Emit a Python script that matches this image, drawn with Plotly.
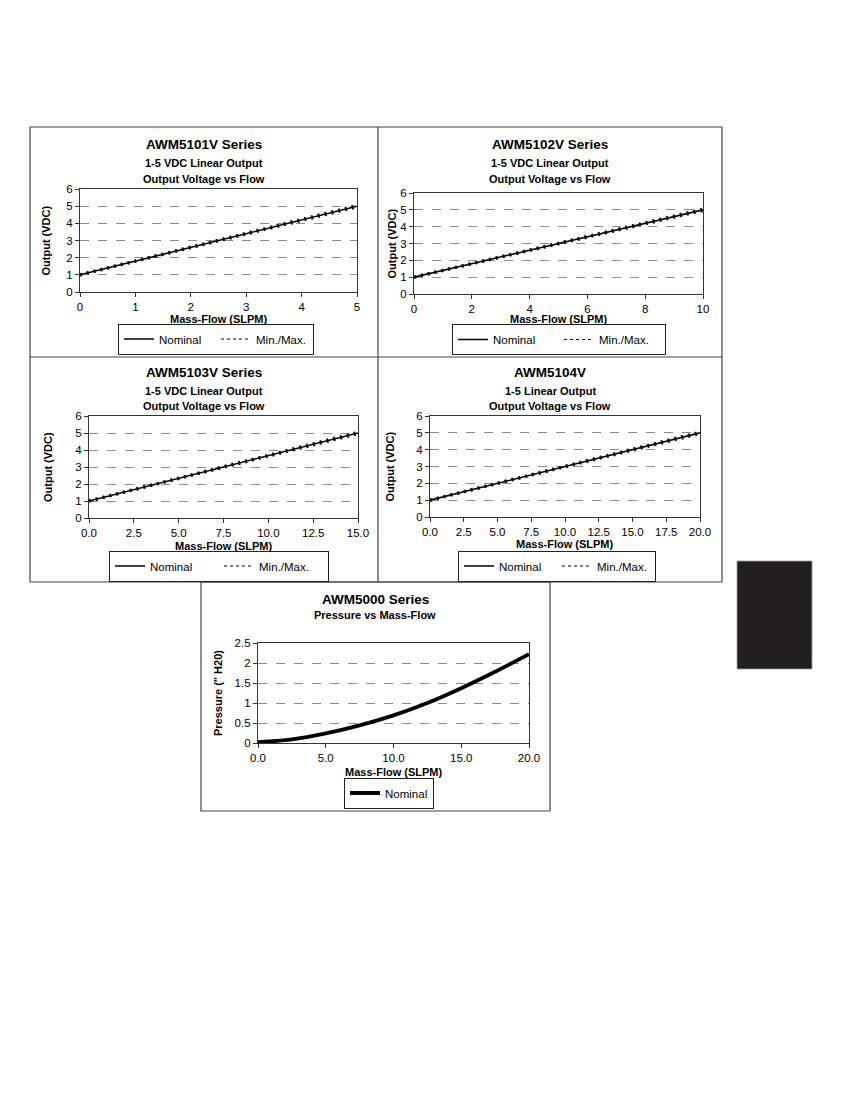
import plotly.graph_objects as go

W, H = 850, 1100

# ---------------- data ----------------
titles = ["AWM5101V Series", "AWM5102V Series", "AWM5103V Series", "AWM5104V", "AWM5000 Series"]
subtitles = [
    ["1-5 VDC Linear Output", "Output Voltage vs Flow"],
    ["1-5 VDC Linear Output", "Output Voltage vs Flow"],
    ["1-5 VDC Linear Output", "Output Voltage vs Flow"],
    ["1-5 Linear Output", "Output Voltage vs Flow"],
    ["Pressure vs Mass-Flow"],
]
flow_5101 = [0, 5]
flow_5102 = [0, 10]
flow_5103 = [0, 15]
flow_5104 = [0, 20]
out_nominal = [1.0, 5.0]
out_min = [1.0, 4.96]
out_max = [1.0, 5.04]

flow_5000 = [0.0, 2.5, 5.0, 7.5, 10.0, 12.5, 15.0, 17.5, 20.0]
pressure_5000 = [0.02, 0.09, 0.24, 0.44, 0.69, 1.0, 1.37, 1.78, 2.22]

x_ranges = [[0, 5], [0, 10], [0, 15], [0, 20], [0, 20]]
x_dticks = [1, 2, 2.5, 2.5, 5]
x_formats = ["d", "d", ".1f", ".1f", ".1f"]
y_ranges = [[0, 6], [0, 6], [0, 6], [0, 6], [0, 2.5]]
y_dticks = [1, 1, 1, 1, 0.5]
x_title = "Mass-Flow (SLPM)"
y_titles = ["Output (VDC)"] * 4 + ['Pressure (" H20)']
legend_names = ["Nominal", "Min./Max."]

# ---------------- layout geometry (page pixels) ----------------
plots = [  # left, right, top, bottom
    (80, 357, 189, 292),
    (414, 703, 193, 294),
    (89, 358, 416, 518),
    (430, 700, 416, 517),
    (258, 529, 643, 743),
]
title_x = [204, 550, 204, 550, 375]
title_y = [[145, 163, 179], [144, 163, 179], [372, 391, 406], [373, 391, 406], [599, 615]]
xtitle_y = [319, 319, 546, 544, 772]
ytitle_x = [45, 391, 48, 390, 218]
legend_pos = [(118, 339), (452, 339.5), (109, 566), (458, 566), (344, 793)]  # left, middle-y
legend_entry_w = [52, 61, 64, 53, None]

FONT = "Liberation Sans, Arial, sans-serif"
OFF = 8  # page body margin

def px(x):
    return (x - OFF) / W

def py(y):
    return 1 - (y - OFF) / H

fig = go.Figure()

series_flows = [flow_5101, flow_5102, flow_5103, flow_5104]

for i in range(5):
    xa = "x" if i == 0 else f"x{i+1}"
    ya = "y" if i == 0 else f"y{i+1}"
    lg = "legend" if i == 0 else f"legend{i+1}"
    if i < 4:
        fl = series_flows[i]
        fig.add_trace(go.Scatter(x=fl, y=out_nominal, mode="lines", xaxis=xa, yaxis=ya,
                                 line=dict(color="black", width=1.6), showlegend=False,
                                 cliponaxis=False))
        for yy in (out_min, out_max):
            fig.add_trace(go.Scatter(x=fl, y=yy, mode="lines", xaxis=xa, yaxis=ya,
                                     line=dict(color="#111", width=3.2, dash="2px,5px"),
                                     showlegend=False, cliponaxis=False))
        fig.add_trace(go.Scatter(x=[None], y=[None], mode="lines", name=legend_names[0],
                                 xaxis=xa, yaxis=ya, legend=lg,
                                 line=dict(color="black", width=1.5)))
        fig.add_trace(go.Scatter(x=[None], y=[None], mode="lines", name=legend_names[1],
                                 xaxis=xa, yaxis=ya, legend=lg,
                                 line=dict(color="black", width=1.2, dash="3px,3px")))
    else:
        fig.add_trace(go.Scatter(x=flow_5000, y=pressure_5000, mode="lines", name=legend_names[0],
                                 xaxis=xa, yaxis=ya, legend=lg, line_shape="spline",
                                 line=dict(color="black", width=3.8), cliponaxis=False))

layout = dict(
    width=W, height=H, margin=dict(l=0, r=0, t=0, b=0, pad=0, autoexpand=False),
    paper_bgcolor="white", plot_bgcolor="white",
    font=dict(family=FONT, size=11, color="black"),
    showlegend=True,
)

for i, (l, r, t, b) in enumerate(plots):
    xk = "xaxis" if i == 0 else f"xaxis{i+1}"
    yk = "yaxis" if i == 0 else f"yaxis{i+1}"
    ya = "y" if i == 0 else f"y{i+1}"
    xa = "x" if i == 0 else f"x{i+1}"
    layout[xk] = dict(domain=[px(l), px(r)], anchor=ya, range=x_ranges[i], dtick=x_dticks[i],
                      tick0=0, tickformat=x_formats[i], showgrid=False, zeroline=False,
                      showline=True, linecolor="#333", linewidth=1.3, mirror=True,
                      ticks="outside", ticklen=4, tickcolor="#333", automargin=False,
                      tickfont=dict(size=11.5, family=FONT))
    layout[yk] = dict(domain=[py(b), py(t)], anchor=xa, range=y_ranges[i], dtick=y_dticks[i],
                      tick0=0, showgrid=True, gridcolor="#8c8c8c", griddash="dash", gridwidth=1,
                      zeroline=False, showline=True, linecolor="#333", linewidth=1.3, mirror=True,
                      ticks="outside", ticklen=4, tickcolor="#333", automargin=False,
                      tickfont=dict(size=11.5, family=FONT))
    lk = "legend" if i == 0 else f"legend{i+1}"
    lx, ly = legend_pos[i]
    leg = dict(x=px(lx), y=py(ly), xanchor="left", yanchor="middle", orientation="h",
               bordercolor="#222", borderwidth=1, bgcolor="white",
               font=dict(size=11.5, family=FONT), itemwidth=30,
               tracegroupgap=0, traceorder="normal")
    if legend_entry_w[i]:
        leg["entrywidth"] = legend_entry_w[i]
        leg["entrywidthmode"] = "pixels"
    layout[lk] = leg

annotations = []
for i in range(5):
    texts = [titles[i]] + subtitles[i]
    for j, txt in enumerate(texts):
        annotations.append(dict(text=f"<b>{txt}</b>", x=px(title_x[i]), y=py(title_y[i][j]),
                                xref="paper", yref="paper", showarrow=False,
                                xanchor="center", yanchor="middle",
                                font=dict(size=13.5 if j == 0 else 11, family=FONT)))
    l, r, t, b = plots[i]
    annotations.append(dict(text=f"<b>{x_title}</b>", x=px((l + r) / 2), y=py(xtitle_y[i]),
                            xref="paper", yref="paper", showarrow=False,
                            xanchor="center", yanchor="middle", font=dict(size=11, family=FONT)))
    annotations.append(dict(text=f"<b>{y_titles[i]}</b>", x=px(ytitle_x[i]), y=py((t + b) / 2),
                            xref="paper", yref="paper", showarrow=False, textangle=-90,
                            xanchor="center", yanchor="middle", font=dict(size=11, family=FONT)))
layout["annotations"] = annotations

shapes = []
bc = "#444"
# outer box of the 2x2 grid
shapes.append(dict(type="rect", xref="paper", yref="paper", x0=px(30), x1=px(722), y0=py(582), y1=py(127),
                   line=dict(color=bc, width=1.2)))
shapes.append(dict(type="line", xref="paper", yref="paper", x0=px(378), x1=px(378), y0=py(582), y1=py(127),
                   line=dict(color=bc, width=1.2)))
shapes.append(dict(type="line", xref="paper", yref="paper", x0=px(30), x1=px(722), y0=py(357), y1=py(357),
                   line=dict(color=bc, width=1.2)))
# bottom box
shapes.append(dict(type="rect", xref="paper", yref="paper", x0=px(201), x1=px(550), y0=py(811), y1=py(582),
                   line=dict(color=bc, width=1.2)))
# black tab
shapes.append(dict(type="rect", xref="paper", yref="paper", x0=px(737), x1=px(812), y0=py(669), y1=py(561),
                   fillcolor="#231f20", line=dict(color="#999", width=0.8)))
layout["shapes"] = shapes

fig.update_layout(**layout)
fig.write_html("out.html")
